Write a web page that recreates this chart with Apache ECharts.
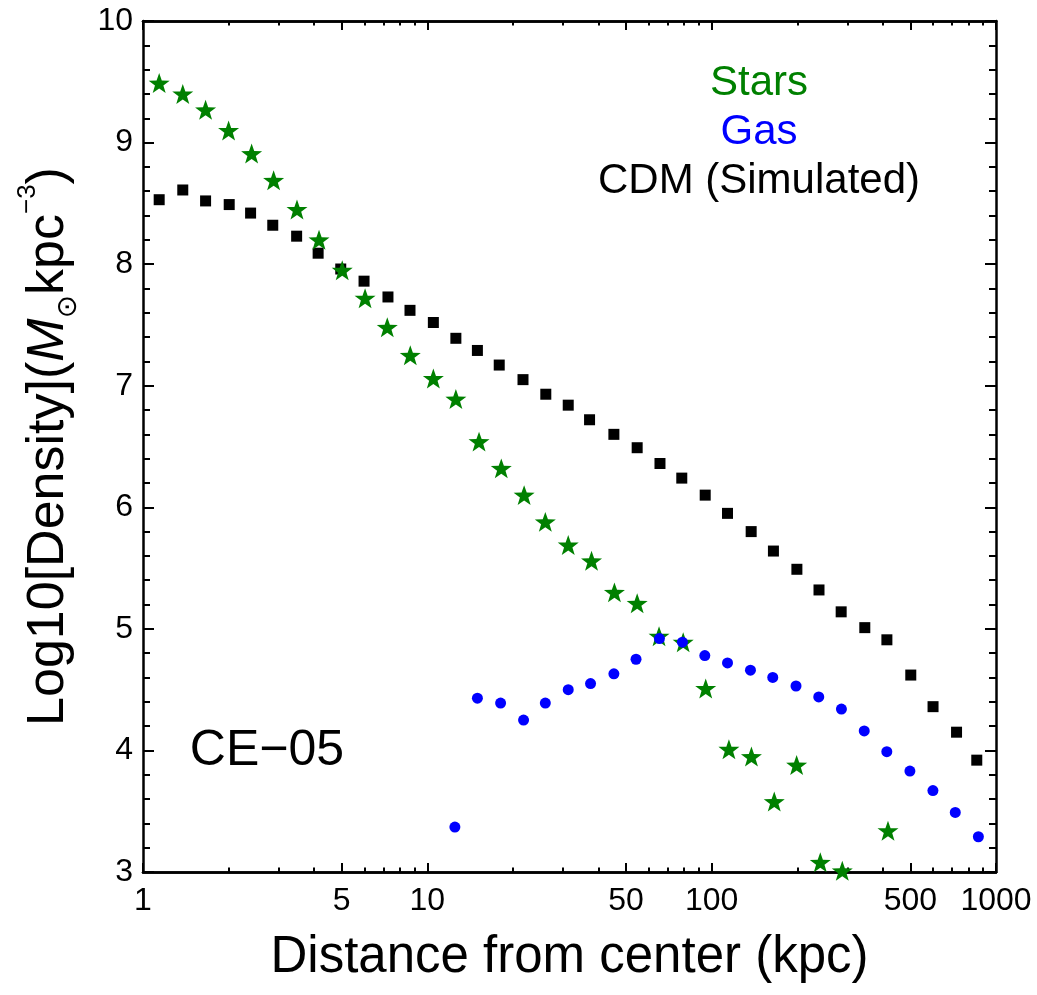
<!DOCTYPE html>
<html>
<head>
<meta charset="utf-8">
<title>CE-05 density profile</title>
<script src="https://cdn.jsdelivr.net/npm/echarts@6/dist/echarts.min.js"></script>
<style>
  html, body { margin: 0; padding: 0; background: #fff; }
  #chart { width: 1037px; height: 995px; }
</style>
</head>
<body>
<div id="chart"></div>
<script>
// values: distance (kpc) and log10 density
const cdmR = [1.14, 1.38, 1.66, 2.01, 2.39, 2.86, 3.47, 4.13, 4.96, 5.99, 7.27, 8.69, 10.5, 12.6, 15.0, 17.9, 21.7, 26.1, 31.3, 37.2, 45.3, 54.7, 65.8, 78.5, 94.9, 113.7, 137.7, 164.9, 199.4, 238.5, 285.4, 345.6, 413.3, 501.5, 600.6, 726.5, 855.8];
const cdmRho = [8.53, 8.61, 8.52, 8.49, 8.42, 8.32, 8.23, 8.09, 7.96, 7.86, 7.73, 7.62, 7.52, 7.39, 7.29, 7.17, 7.05, 6.93, 6.84, 6.72, 6.60, 6.49, 6.36, 6.24, 6.10, 5.95, 5.80, 5.64, 5.49, 5.32, 5.14, 5.01, 4.91, 4.62, 4.36, 4.15, 3.92];

const starR = [0.95, 1.14, 1.38, 1.66, 2.00, 2.41, 2.88, 3.48, 4.16, 5.02, 6.04, 7.23, 8.71, 10.5, 12.6, 15.2, 18.2, 21.9, 26.0, 31.3, 37.8, 45.5, 54.7, 65.3, 79.4, 95.3, 115, 138, 166, 199, 241, 288, 417];
const starRho = [9.57, 9.49, 9.40, 9.27, 9.10, 8.91, 8.69, 8.45, 8.20, 7.95, 7.72, 7.48, 7.25, 7.06, 6.89, 6.54, 6.32, 6.10, 5.88, 5.69, 5.56, 5.30, 5.21, 4.94, 4.89, 4.51, 4.01, 3.95, 3.58, 3.88, 3.08, 3.01, 3.34];

const gasR = [12.5, 15.0, 18.1, 21.8, 26.0, 31.3, 37.5, 45.3, 54.2, 65.5, 78.9, 94.6, 113.7, 136.9, 164, 198, 238, 286, 344, 413, 498, 600, 719, 867];
const gasRho = [3.37, 4.43, 4.39, 4.25, 4.39, 4.50, 4.55, 4.63, 4.75, 4.92, 4.89, 4.78, 4.72, 4.66, 4.60, 4.53, 4.44, 4.34, 4.16, 3.99, 3.83, 3.67, 3.49, 3.29];

const xMajor = [1, 5, 10, 50, 100, 500, 1000];
const xMinor = [2, 3, 4, 6, 7, 8, 9, 20, 30, 40, 60, 70, 80, 90, 200, 300, 400, 600, 700, 800, 900];
const yMin = 3, yMax = 10, yStep = 1;

const legendLines = ['Stars', 'Gas', 'CDM (Simulated)'];
const legendColors = ['#008000', '#0000ff', '#000000'];
const haloName = 'CE\u221205';

const font = "'Liberation Sans', Arial, Helvetica, sans-serif";
const starPath = 'path://M0 -10 L2.351 -3.236 L9.511 -3.09 L3.804 1.236 L5.878 8.09 L0 4 L-5.878 8.09 L-3.804 1.236 L-9.511 -3.09 L-2.351 -3.236 Z';

function pairs(xs, ys) {
  return xs.map((x, i) => [x, ys[i]]);
}

// one log x axis; several copies give the frame its ticks on both sides
function xAxisPart(pos, ticks, len, labels) {
  return {
    type: 'log', logBase: 10, min: 1, max: 1000, position: pos,
    axisLine: { show: true, onZero: false, lineStyle: { color: '#000', width: 2.5 } },
    axisTick: { show: true, inside: true, length: len, customValues: ticks, lineStyle: { color: '#000', width: 2 } },
    axisLabel: labels ? {
      show: true, customValues: xMajor, margin: 13, color: '#000',
      fontFamily: font, fontSize: 32, showMinLabel: true, showMaxLabel: true,
      formatter: v => String(v)
    } : { show: false },
    splitLine: { show: false }
  };
}

function yAxisPart(pos, labels) {
  return {
    type: 'value', min: yMin, max: yMax, interval: yStep, position: pos,
    axisLine: { show: true, onZero: false, lineStyle: { color: '#000', width: 2.5 } },
    axisTick: { show: true, inside: true, length: 11, lineStyle: { color: '#000', width: 2 } },
    minorTick: { show: true, splitNumber: 5, length: 7, lineStyle: { color: '#000', width: 2 } },
    axisLabel: labels ? { show: true, margin: 10, color: '#000', fontFamily: font, fontSize: 32 } : { show: false },
    splitLine: { show: false }
  };
}

const chart = echarts.init(document.getElementById('chart'), null, { renderer: 'canvas' });

const xAxes = [
  xAxisPart('bottom', xMajor, 9, true),
  xAxisPart('bottom', xMinor, 4.5, false),
  xAxisPart('top', xMajor, 9, false),
  xAxisPart('top', xMinor, 4.5, false)
];
xAxes[0].name = 'Distance from center (kpc)';
xAxes[0].nameLocation = 'middle';
xAxes[0].nameGap = 60;
xAxes[0].nameTextStyle = { fontFamily: font, fontSize: 51, color: '#000' };

const yAxes = [yAxisPart('left', true), yAxisPart('right', false)];
yAxes[0].name = '{n|Log10[Density](}{i|M}{sub|\u2299}{n|kpc}{sup|\u22123}{n|)}';
yAxes[0].nameLocation = 'middle';
yAxes[0].nameGap = 60;
yAxes[0].nameTextStyle = {
  fontFamily: font, fontSize: 52, color: '#000',
  rich: {
    n: { fontFamily: font, fontSize: 52, lineHeight: 68, color: '#000' },
    i: { fontFamily: font, fontSize: 52, lineHeight: 68, fontStyle: 'italic', color: '#000' },
    sub: { fontFamily: "'DejaVu Sans', sans-serif", fontSize: 28, lineHeight: 40, verticalAlign: 'bottom', color: '#000' },
    sup: { fontFamily: font, fontSize: 26, lineHeight: 26, verticalAlign: 'top', color: '#000' }
  }
};

const graphics = legendLines.map((t, i) => ({
  type: 'text', x: 759, y: 83 + i * 49,
  style: { text: t, fill: legendColors[i], font: '42px ' + font, align: 'center', verticalAlign: 'middle' }
}));
graphics.push({
  type: 'text', x: 267, y: 751,
  style: { text: haloName, fill: '#000', font: '50px ' + font, align: 'center', verticalAlign: 'middle' }
});

chart.setOption({
  animation: false,
  backgroundColor: '#fff',
  grid: { left: 143, right: 41, top: 21, bottom: 123 },
  xAxis: xAxes,
  yAxis: yAxes,
  graphic: graphics,
  series: [
    {
      name: 'CDM (Simulated)', type: 'scatter', xAxisIndex: 0, yAxisIndex: 0,
      symbol: 'rect', symbolSize: 11,
      itemStyle: { color: '#000', opacity: 1 },
      data: pairs(cdmR, cdmRho)
    },
    {
      name: 'Stars', type: 'scatter', xAxisIndex: 0, yAxisIndex: 0,
      symbol: starPath, symbolSize: 21, symbolKeepAspect: true,
      itemStyle: { color: '#008000', opacity: 1 },
      data: pairs(starR, starRho)
    },
    {
      name: 'Gas', type: 'scatter', xAxisIndex: 0, yAxisIndex: 0,
      symbol: 'circle', symbolSize: 11,
      itemStyle: { color: '#0000ff', opacity: 1 },
      data: pairs(gasR, gasRho)
    }
  ]
});
</script>
</body>
</html>
